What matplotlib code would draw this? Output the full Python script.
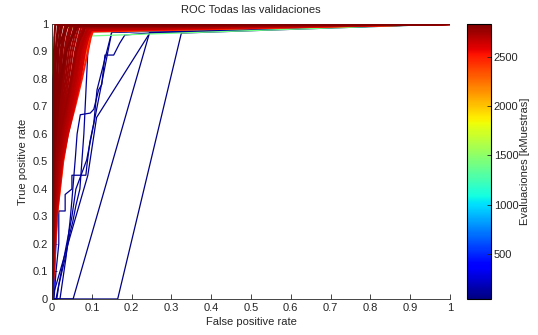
import matplotlib
matplotlib.use("Agg")
import matplotlib.pyplot as plt
from matplotlib.colors import Normalize
from matplotlib.cm import ScalarMappable

plt.rcParams['font.family'] = ['Liberation Sans', 'DejaVu Sans']
plt.rcParams['font.size'] = 8

# ---- data -------------------------------------------------------------
titulo = "ROC Todas las validaciones"
x_label = "False positive rate"
y_label = "True positive rate"
cbar_label = "Evaluaciones [kMuestras]"
eval_min, eval_max = 40, 2835
cbar_ticks = [500, 1000, 1500, 2000, 2500]
axis_ticks = [0, 0.1, 0.2, 0.3, 0.4, 0.5, 0.6, 0.7, 0.8, 0.9, 1]
axis_ticklabels = ["0", "0.1", "0.2", "0.3", "0.4", "0.5", "0.6", "0.7", "0.8", "0.9", "1"]

# Low-evaluation (poor) curves
eval_blue = [45, 60, 70, 75, 90, 100, 110, 380]
fpr_blue = [
    [0, 0.165, 0.325, 1],
    [0, 0.053, 0.245, 1],
    [0, 0.02, 0.05, 0.07, 0.09, 0.112, 0.246, 1],
    [0, 0.005, 0.01, 0.017, 0.017, 0.033, 0.033, 0.05, 0.05, 0.085, 0.088, 0.095, 0.105, 0.113, 0.15, 1],
    [0, 0.02, 0.035, 0.045, 0.05, 0.059, 0.063, 0.071, 0.096, 0.105, 0.117, 0.125, 0.133, 0.155, 0.17, 0.183, 0.25, 1],
    [0, 0.01, 0.03, 0.05, 0.06, 0.087, 0.15, 1],
    [0, 0.012, 0.017, 0.025, 0.035, 0.045, 0.052, 0.06, 0.07, 0.075, 0.08, 0.085, 0.09, 0.1, 1],
    [0, 0.005, 0.01, 0.015, 0.02, 0.025, 0.03, 0.035, 0.04, 0.05, 0.06, 0.075, 1],
]
tpr_blue = [
    [0, 0, 0.967, 1],
    [0, 0, 0.968, 1],
    [0, 0.1, 0.25, 0.35, 0.45, 0.66, 0.968, 1],
    [0, 0, 0.1, 0.2, 0.32, 0.32, 0.38, 0.40, 0.45, 0.45, 0.49, 0.57, 0.64, 0.76, 0.97, 1],
    [0, 0, 0.15, 0.28, 0.36, 0.52, 0.60, 0.67, 0.676, 0.69, 0.76, 0.78, 0.887, 0.887, 0.93, 0.96, 0.968, 1],
    [0, 0, 0.15, 0.3, 0.4, 0.505, 0.97, 1],
    [0, 0, 0.05, 0.1, 0.16, 0.24, 0.28, 0.34, 0.4, 0.5, 0.6, 0.75, 0.9, 0.975, 1],
    [0, 0.05, 0.2, 0.35, 0.42, 0.48, 0.55, 0.62, 0.68, 0.75, 0.85, 0.975, 1],
]

# Mid-evaluation curves (cyan, green, yellow)
eval_mid = [1000, 1400, 1750, 1800]
fpr_mid = [
    [0, 0.008, 0.01, 0.015, 0.02, 0.03, 0.045, 0.06, 0.075, 1],
    [0, 0, 0.003, 1],
    [0, 0.004, 0.01, 0.02, 0.035, 0.04, 0.05, 0.06, 0.07, 0.08, 1],
    [0, 0.001, 0.003, 0.02, 1],
]
tpr_mid = [
    [0, 0.2, 0.3, 0.4, 0.5, 0.6, 0.7, 0.8, 0.97, 1],
    [0, 0.87, 0.952, 1],
    [0, 0.3, 0.45, 0.55, 0.65, 0.72, 0.78, 0.85, 0.92, 0.975, 1],
    [0, 0.86, 0.93, 0.985, 1],
]

# High-evaluation (good) curves: fpr reached at the tpr levels below, then end tpr
tpr_levels = [0, 0.3, 0.5, 0.6, 0.7, 0.8, 0.9, 0.95]
fpr_red = [
    [0, 0.000, 0.001, 0.002, 0.003, 0.004, 0.005, 0.006, 0.008],
    [0, 0.001, 0.002, 0.004, 0.006, 0.008, 0.010, 0.013, 0.018],
    [0, 0.002, 0.004, 0.007, 0.010, 0.013, 0.016, 0.020, 0.026],
    [0, 0.002, 0.005, 0.009, 0.013, 0.017, 0.021, 0.026, 0.033],
    [0, 0.003, 0.006, 0.011, 0.016, 0.021, 0.026, 0.031, 0.038],
    [0, 0.003, 0.007, 0.013, 0.019, 0.025, 0.031, 0.037, 0.045],
    [0, 0.004, 0.009, 0.016, 0.023, 0.030, 0.037, 0.043, 0.050],
    [0, 0.004, 0.010, 0.018, 0.026, 0.034, 0.042, 0.049, 0.056],
    [0, 0.005, 0.012, 0.020, 0.029, 0.038, 0.047, 0.055, 0.062],
    [0, 0.005, 0.013, 0.022, 0.032, 0.042, 0.052, 0.060, 0.067],
    [0, 0.006, 0.015, 0.025, 0.036, 0.047, 0.058, 0.066, 0.073],
    [0, 0.007, 0.017, 0.028, 0.040, 0.052, 0.063, 0.071, 0.078],
    [0, 0.008, 0.019, 0.031, 0.044, 0.056, 0.068, 0.076, 0.083],
    [0, 0.009, 0.021, 0.034, 0.048, 0.061, 0.073, 0.081, 0.088],
    [0, 0.010, 0.024, 0.037, 0.052, 0.066, 0.078, 0.086, 0.093],
    [0, 0.011, 0.026, 0.040, 0.056, 0.071, 0.083, 0.091, 0.098],
    [0, 0.012, 0.028, 0.040, 0.058, 0.075, 0.090, 0.097, 0.103],
    [0, 0.000, 0.000, 0.001, 0.002, 0.003, 0.012, 0.025, 0.040],
    [0, 0.001, 0.003, 0.005, 0.008, 0.020, 0.035, 0.050, 0.065],
    [0, 0.004, 0.012, 0.030, 0.045, 0.055, 0.065, 0.078, 0.090],
    [0, 0.002, 0.008, 0.020, 0.034, 0.048, 0.060, 0.072, 0.085],
    [0, 0.008, 0.020, 0.035, 0.050, 0.062, 0.072, 0.082, 0.095],
    [0, 0.006, 0.016, 0.030, 0.045, 0.060, 0.075, 0.088, 0.100],
    [0, 0.001, 0.004, 0.009, 0.015, 0.024, 0.036, 0.048, 0.060],
    [0, 0.003, 0.010, 0.024, 0.038, 0.050, 0.060, 0.068, 0.080],
    [0, 0.010, 0.022, 0.036, 0.050, 0.065, 0.080, 0.092, 0.100],
    [0, 0.005, 0.014, 0.027, 0.042, 0.057, 0.070, 0.080, 0.092],
    [0, 0.012, 0.027, 0.039, 0.055, 0.070, 0.085, 0.095, 0.102],
    [0, 0.007, 0.018, 0.032, 0.047, 0.059, 0.071, 0.085, 0.098],
    [0, 0.009, 0.023, 0.038, 0.053, 0.067, 0.081, 0.090, 0.101],
    [0, 0.000, 0.002, 0.003, 0.005, 0.007, 0.009, 0.012, 0.015],
    [0, 0.001, 0.003, 0.006, 0.009, 0.012, 0.015, 0.018, 0.022],
    [0, 0.002, 0.006, 0.010, 0.015, 0.019, 0.024, 0.028, 0.034],
    [0, 0.003, 0.008, 0.014, 0.021, 0.027, 0.034, 0.040, 0.047],
]
tpr_end_red = [0.998, 0.997, 0.996, 0.995, 0.994, 0.993, 0.992, 0.991, 0.990, 0.989,
               0.988, 0.987, 0.986, 0.985, 0.984, 0.982, 0.976, 0.996, 0.993, 0.985,
               0.990, 0.983, 0.980, 0.994, 0.988, 0.975, 0.986, 0.972, 0.978, 0.974,
               0.999, 0.997, 0.995, 0.992]
eval_red = [2830, 2820, 2810, 2800, 2790, 2780, 2770, 2760, 2750, 2740,
            2730, 2720, 2700, 2690, 2660, 2620, 2500, 2825, 2815, 2700,
            2760, 2640, 2580, 2805, 2745, 2450, 2710, 2300, 2680, 2550,
            2835, 2815, 2795, 2775]

# ---- plot -------------------------------------------------------------
fig = plt.figure(figsize=(5.38, 3.35), dpi=100)
ax = fig.add_axes([0.0967, 0.1075, 0.7397, 0.8209])
cax = fig.add_axes([0.868, 0.1075, 0.0446, 0.8209])

cmap = plt.get_cmap('jet')
norm = Normalize(vmin=eval_min, vmax=eval_max)

curves = []
for e, f, t in zip(eval_blue, fpr_blue, tpr_blue):
    curves.append((e, f, t, 0.9))
for e, f, t in zip(eval_mid, fpr_mid, tpr_mid):
    curves.append((e, f, t, 0.9))
for e, f, tend in zip(eval_red, fpr_red, tpr_end_red):
    curves.append((e, list(f) + [1], list(tpr_levels) + [tend, 1], 1.5))

# plotted in order of increasing evaluations
for e, f, t, lw in sorted(curves, key=lambda c: c[0]):
    ax.plot(f, t, color=cmap(norm(e)), lw=lw)

dark = '#262626'
ax.set_xlim(0, 1)
ax.set_ylim(0, 1)
ax.set_xticks(axis_ticks)
ax.set_xticklabels(axis_ticklabels)
ax.set_yticks(axis_ticks)
ax.set_yticklabels(axis_ticklabels)
ax.tick_params(direction='in', length=3.5, width=0.6, colors=dark, labelsize=8, pad=3)
for s in ['top', 'right']:
    ax.spines[s].set_visible(False)
for s in ['left', 'bottom']:
    ax.spines[s].set_color(dark)
    ax.spines[s].set_linewidth(0.6)
ax.set_title(titulo, fontsize=8, color=dark, pad=8)
ax.set_xlabel(x_label, fontsize=8, color=dark, labelpad=3)
ax.set_ylabel(y_label, fontsize=8, color=dark, labelpad=3)

sm = ScalarMappable(norm=norm, cmap=cmap)
cb = fig.colorbar(sm, cax=cax)
cb.set_ticks(cbar_ticks)
cb.ax.tick_params(direction='in', length=3, width=0.6, colors=dark, labelsize=8, pad=2)
cb.outline.set_linewidth(0.8)
cb.outline.set_edgecolor('black')
cb.set_label(cbar_label, fontsize=8, color=dark, labelpad=1)

fig.savefig("out.png", dpi=100)
